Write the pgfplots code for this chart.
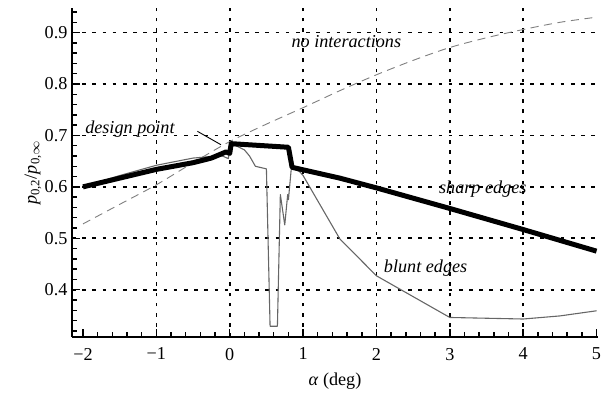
\documentclass[border=0pt]{standalone}
\usepackage{fontspec}
\setmainfont{Liberation Serif}
\usepackage{pgfplots}
\pgfplotsset{compat=1.18}
\begin{document}
\begin{tikzpicture}
\begin{axis}[
  scale only axis, width=289.3pt, height=181pt,
  xmin=-2.15, xmax=5.02, ymin=0.308, ymax=0.948,
  axis lines=left, axis line style={-, line width=1pt},
  xtick={-1,0,1,2,3,4}, xticklabels={−1,0,1,2,3,4},
  extra x ticks={-2,5}, extra x tick labels={−2,5}, extra x tick style={grid=none},
  ytick={0.4,0.5,0.6,0.7,0.8,0.9}, yticklabels={0.4,0.5,0.6,0.7,0.8,0.9},
  minor xtick={-2,-1.8,...,5.01}, minor ytick={0.32,0.34,...,0.945},
  tick align=inside,
  major tick length=4.5pt, minor tick length=2.5pt,
  tick style={black, line width=0.8pt},
  x tick label style={yshift=-2.5pt},
  y tick label style={xshift=1pt},
  grid=major,
  major grid style={black, line width=0.9pt, dash pattern=on 2pt off 3.6pt},
  xlabel={\textit{α} (deg)},
  ylabel={\textit{p}\textsubscript{0,2}/\textit{p}\textsubscript{0,$\infty$}},
  x label style={at={(axis description cs:0.5,-0.1337)}, anchor=center},
  y label style={at={(axis description cs:-0.0743,0.5)}, anchor=center},
  clip=false,
]
% no interactions
\addplot[gray, line width=0.5pt, dash pattern=on 4.5pt off 3pt, smooth] coordinates {
(-2,0.528) (-1.5,0.566) (-1,0.604) (-0.5,0.647) (0,0.688) (0.5,0.722) (1,0.754)
(1.5,0.787) (2,0.818) (2.5,0.846) (3,0.871) (3.5,0.890) (4,0.906) (4.5,0.920) (5,0.930)};
% blunt edges
\addplot[black!60, line width=0.6pt, line join=round] coordinates {
(-2,0.600) (-1.5,0.622) (-1,0.642) (-0.5,0.656) (-0.25,0.659) (-0.1,0.660) (-0.02,0.655)
(0.02,0.682) (0.1,0.679) (0.2,0.672) (0.27,0.660) (0.35,0.640) (0.5,0.635) (0.55,0.329)
(0.65,0.329) (0.69,0.585) (0.75,0.526) (0.79,0.585) (0.80,0.575) (0.84,0.637) (0.95,0.630)
(1.0,0.622) (1.5,0.499) (2,0.427) (3,0.346) (4,0.343) (4.5,0.349) (5,0.359)};
% sharp edges
\addplot[black, line width=2.75pt, line join=round] coordinates {
(-2,0.600) (-1,0.634) (-0.5,0.647) (-0.25,0.656) (-0.05,0.668) (0,0.665) (0.02,0.684)
(0.8,0.677) (0.85,0.638) (1.5,0.617) (2,0.598) (3,0.558) (4,0.517) (5,0.475)};
\draw[black, line width=0.5pt] (axis cs:-0.44,0.708) -- (axis cs:-0.12,0.682);
\node[font=\itshape] at (axis cs:-1.36,0.712) {design point};
\node[font=\itshape] at (axis cs:1.59,0.882) {no interactions};
\node[font=\itshape] at (axis cs:3.45,0.596) {sharp edges};
\node[font=\itshape] at (axis cs:2.67,0.442) {blunt edges};
\end{axis}
\pgfresetboundingbox
\useasboundingbox (-39.6pt,-32.45pt) rectangle (297.55pt,185.35pt);
\end{tikzpicture}
\end{document}
